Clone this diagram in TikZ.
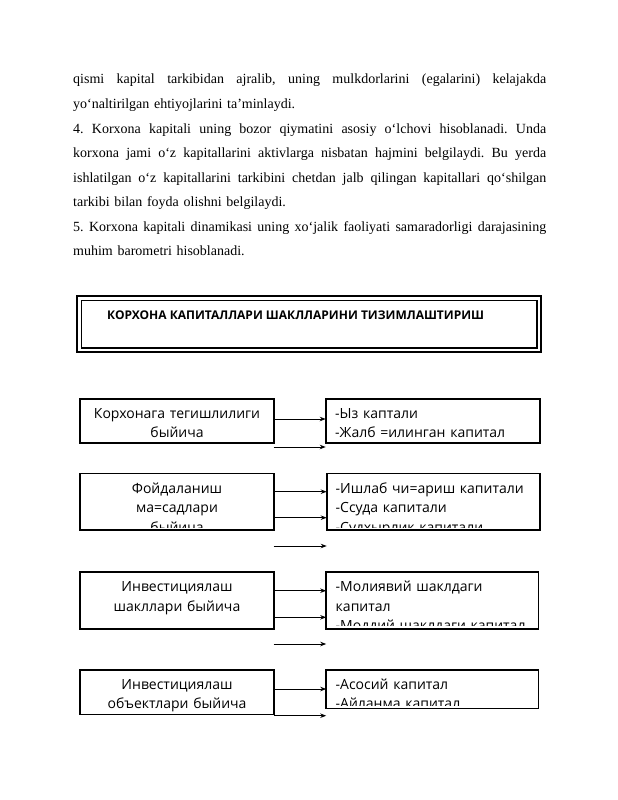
\documentclass[tikz,border=0pt]{standalone}
\usepackage{fontspec}
\setmainfont{Liberation Serif}
\newfontfamily\osans{Open Sans}
\usetikzlibrary{arrows.meta,calc}
\newcommand\jline[1]{\makebox[473pt][s]{\spaceskip=0pt\xspaceskip=0pt\relax #1}}
\begin{document}
\begin{tikzpicture}[x=1pt,y=-1pt,
  body/.style={anchor=base west,inner sep=0,text width=473pt,align=left,
    font=\fontsize{14}{24.5}\selectfont\frenchspacing},
  cbox/.style={draw,line width=1.8pt,inner sep=0,outer sep=0},
  ltext/.style={anchor=base,inner sep=0,text width=190pt,align=center,
    font=\osans\fontsize{14}{19.6}\selectfont},
  rtext/.style={anchor=base west,inner sep=0,text width=200pt,align=left,
    font=\osans\fontsize{14}{19.6}\selectfont},
  arr/.style={line width=0.9pt,-{Stealth[length=6pt,width=4.5pt]}}
]
\useasboundingbox (0,0) rectangle (618,800);
% body text
\node[body] (para) at (73,84) {%
\jline{qismi kapital tarkibidan ajralib, uning mulkdorlarini (egalarini) kelajakda}\\
yo‘naltirilgan ehtiyojlarini ta’minlaydi.\\
\jline{4. Korxona kapitali uning bozor qiymatini asosiy o‘lchovi hisoblanadi. Unda}\\
\jline{korxona jami o‘z kapitallarini aktivlarga nisbatan hajmini belgilaydi. Bu yerda}\\
\jline{ishlatilgan o‘z kapitallarini tarkibini chetdan jalb qilingan kapitallari qo‘shilgan}\\
tarkibi bilan foyda olishni belgilaydi.\\
\jline{5. Korxona kapitali dinamikasi uning xo‘jalik faoliyati samaradorligi darajasining}\\
muhim barometri hisoblanadi.};
% title box
\node[draw,line width=1.9pt,inner sep=0,outer sep=0,minimum width=464.3pt,minimum height=56.2pt] (tout) at (309.15,324.1) {};
\node[draw,line width=1.7pt,inner sep=0,outer sep=0,minimum width=455.5pt,minimum height=47.8pt] (tin) at (309.25,324.4) {};
\node[anchor=base west,inner sep=0,font=\osans\bfseries\fontsize{12}{14}\selectfont] (title) at (107,319.3) {КОРХОНА КАПИТАЛЛАРИ ШАКЛЛАРИНИ ТИЗИМЛАШТИРИШ};
% row 1
\node[cbox,minimum width=193.4pt,minimum height=44pt] (L1) at (177,420.8) {};
\node[cbox,minimum width=214pt,minimum height=44pt] (R1) at (432.7,420.8) {};
\begin{scope}
\clip ($(L1.south west)+(1,-3)$) rectangle ($(L1.north east)+(-1,1)$);
\node[ltext] (L1t) at (177,418) {Корхонага тегишлилиги\\быйича};
\end{scope}
\begin{scope}
\clip ($(R1.south west)+(1,-3)$) rectangle ($(R1.north east)+(-1,1)$);
\node[rtext] (R1t) at (335,418) {-Ыз каптали\\-Жалб =илинган капитал};
\end{scope}
\coordinate (a1s) at (L1.east |- 0,419);
\coordinate (a2s) at (L1.east |- 0,447);
\draw[arr] (a1s) -- (R1.west |- a1s);
\draw[arr] (a2s) -- (R1.west |- a2s);
% row 2
\node[cbox,minimum width=193.4pt,minimum height=56.5pt] (L2) at (177,501.75) {};
\node[cbox,minimum width=213pt,minimum height=56.5pt] (R2) at (433.2,501.75) {};
\begin{scope}
\clip ($(L2.south west)+(1,-3)$) rectangle ($(L2.north east)+(-1,1)$);
\node[ltext] (L2t) at (177,493) {Фойдаланиш\\ма=садлари\\быйича};
\end{scope}
\begin{scope}
\clip ($(R2.south west)+(1,-3)$) rectangle ($(R2.north east)+(-1,1)$);
\node[rtext] (R2t) at (335.5,493) {-Ишлаб чи=ариш капитали\\-Ссуда капитали\\-Судхырлик капитали};
\end{scope}
\coordinate (b1s) at (L2.east |- 0,491.7);
\coordinate (b2s) at (L2.east |- 0,517.7);
\coordinate (b3s) at (L2.east |- 0,546);
\draw[arr] (b1s) -- (R2.west |- b1s);
\draw[arr] (b2s) -- (R2.west |- b2s);
\draw[arr] (b3s) -- (R2.west |- b3s);
% row 3
\node[cbox,minimum width=193.4pt,minimum height=57pt] (L3) at (177,600.3) {};
\node[cbox,minimum width=212.3pt,minimum height=57pt] (R3) at (432.35,600.3) {};
\begin{scope}
\clip ($(L3.south west)+(1,-3)$) rectangle ($(L3.north east)+(-1,1)$);
\node[ltext] (L3t) at (177,591.5) {Инвестициялаш\\шакллари быйича};
\end{scope}
\begin{scope}
\clip ($(R3.south west)+(1,-3)$) rectangle ($(R3.north east)+(-1,1)$);
\node[rtext] (R3t) at (335.5,591.5) {-Молиявий шаклдаги\\капитал\\-Моддий шаклдаги капитал};
\end{scope}
\coordinate (c1s) at (L3.east |- 0,590.7);
\coordinate (c2s) at (L3.east |- 0,617.3);
\coordinate (c3s) at (L3.east |- 0,644);
\draw[arr] (c1s) -- (R3.west |- c1s);
\draw[arr] (c2s) -- (R3.west |- c2s);
\draw[arr] (c3s) -- (R3.west |- c3s);
% row 4
\node[cbox,minimum width=193.4pt,minimum height=44.3pt] (L4) at (177,692.35) {};
\node[cbox,minimum width=212.3pt,minimum height=38.5pt] (R4) at (432.35,689.25) {};
\begin{scope}
\clip ($(L4.south west)+(1,-1)$) rectangle ($(L4.north east)+(-1,1)$);
\node[ltext] (L4t) at (177,689.3) {Инвестициялаш\\объектлари быйича};
\end{scope}
\begin{scope}
\clip ($(R4.south west)+(1,-3)$) rectangle ($(R4.north east)+(-1,1)$);
\node[rtext] (R4t) at (335.5,689.3) {-Асосий капитал\\-Айланма капитал};
\end{scope}
\coordinate (d1s) at (L4.east |- 0,689);
\coordinate (d2s) at (L4.east |- 0,715.7);
\draw[arr] (d1s) -- (R4.west |- d1s);
\draw[arr] (d2s) -- (R4.west |- d2s);
\end{tikzpicture}
\end{document}
